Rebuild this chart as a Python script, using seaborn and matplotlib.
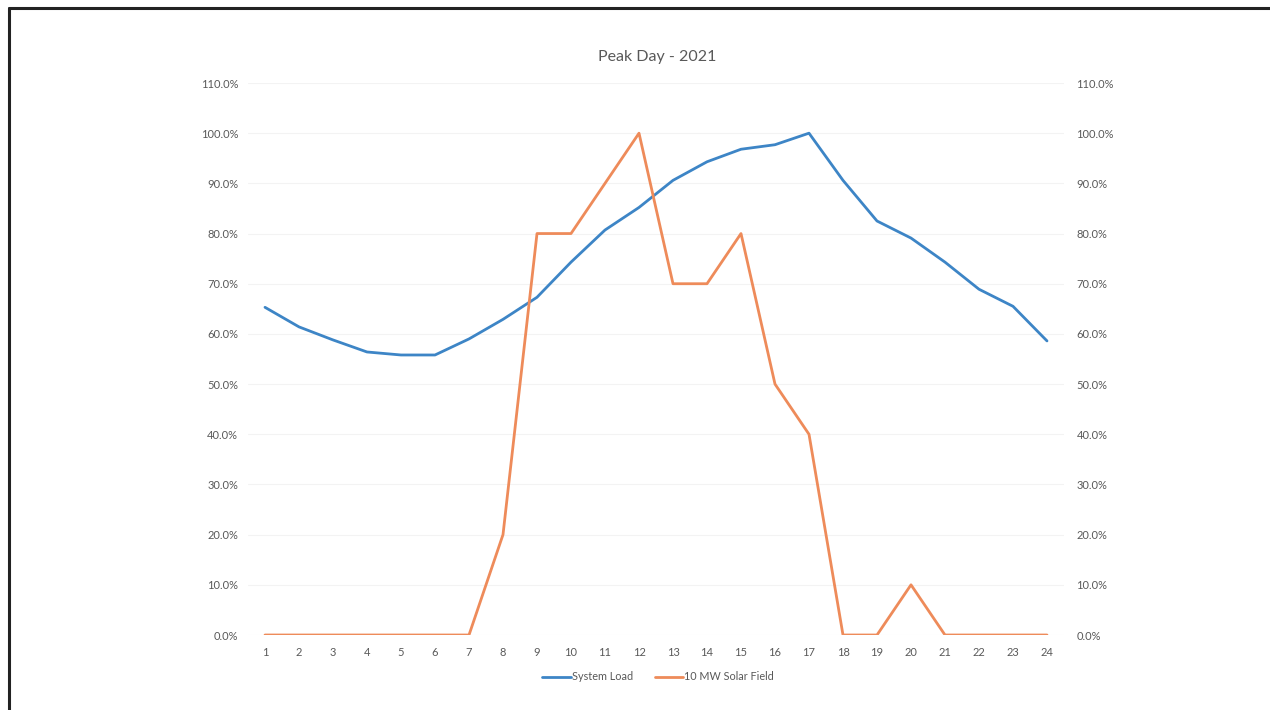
import matplotlib
matplotlib.use('Agg')
import matplotlib.pyplot as plt
from matplotlib.lines import Line2D
from matplotlib.ticker import PercentFormatter
import seaborn as sns
import pandas as pd

HOURS = list(range(1, 25))
SYSTEM_LOAD = [65.3, 61.4, 58.8, 56.4, 55.8, 55.8, 59.0, 62.9, 67.3, 74.3, 80.7, 85.2,
               90.6, 94.3, 96.8, 97.7, 100.0, 90.6, 82.5, 79.1, 74.3, 68.9, 65.5, 58.6]
SOLAR_FIELD = [0, 0, 0, 0, 0, 0, 0, 20, 80, 80, 90, 100,
               70, 70, 80, 50, 40, 0, 0, 10, 0, 0, 0, 0]
Y_TICKS = list(range(0, 111, 10))

BLUE = '#3d85c6'
ORANGE = '#ee8b5a'
TEXT = '#595959'

sns.set_style('white')
plt.rcParams['font.family'] = ['Lato', 'DejaVu Sans']

df = pd.DataFrame({'hour': HOURS, 'System Load': SYSTEM_LOAD, '10 MW Solar Field': SOLAR_FIELD})

fig = plt.figure(figsize=(12.7, 7.1), dpi=100)
ax = fig.add_axes([248 / 1270, 1 - 635 / 710, (1064 - 248) / 1270, (635 - 83) / 710])
ax2 = ax.twinx()

for a in (ax, ax2):
    a.set_xlim(0.5, 24.5)
    a.set_ylim(0, 110)
    a.set_yticks(Y_TICKS)
    a.yaxis.set_major_formatter(PercentFormatter(decimals=1))
    for s in a.spines.values():
        s.set_visible(False)
    a.tick_params(axis='both', length=0, labelsize=8, labelcolor=TEXT)

ax.grid(axis='y', color='#f3f3f3', linewidth=0.8)
ax.set_axisbelow(True)
ax.set_xticks(HOURS)
ax.tick_params(axis='x', pad=9, labelsize=8)
ax.tick_params(axis='y', pad=7)
ax2.tick_params(axis='y', pad=9)

sns.lineplot(data=df, x='hour', y='System Load', ax=ax, color=BLUE, linewidth=2.0)
sns.lineplot(data=df, x='hour', y='10 MW Solar Field', ax=ax2, color=ORANGE, linewidth=2.0)
ax.set_xlabel('')
ax.set_ylabel('')
ax2.set_xlabel('')
ax2.set_ylabel('')

fig.text(657 / 1270, 1 - 57 / 710, 'Peak Day - 2021', ha='center', va='center',
         fontsize=11.5, color=TEXT)

handles = [Line2D([], [], color=BLUE, linewidth=2.0), Line2D([], [], color=ORANGE, linewidth=2.0)]
fig.legend(handles, ['System Load', '10 MW Solar Field'], loc='center',
           bbox_to_anchor=(658 / 1270, 1 - 677 / 710), ncol=2, frameon=False,
           fontsize=7.8, handlelength=2.6, handletextpad=0.1, columnspacing=2.0,
           labelcolor=TEXT)

# scanned page frame (left and top edges)
fig.add_artist(Line2D([9 / 1270, 9 / 1270], [0, 1 - 8 / 710], color='#222222', linewidth=2.2))
fig.add_artist(Line2D([9 / 1270, 1], [1 - 8 / 710, 1 - 8 / 710], color='#222222', linewidth=2.2))

fig.savefig('out.png', dpi=100)
